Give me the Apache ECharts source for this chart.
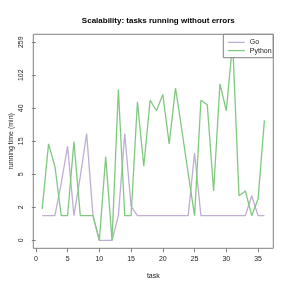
<!DOCTYPE html>
<html>
<head>
<meta charset="utf-8">
<script src="https://cdn.jsdelivr.net/npm/echarts@6/dist/echarts.min.js"></script>
<style>html,body{margin:0;padding:0;background:#fff;}#c{width:291px;height:291px;}</style>
</head>
<body>
<div id="c"></div>
<script>
// ---- data ----
const tasks = [1,2,3,4,5,6,7,8,9,10,11,12,13,14,15,16,17,18,19,20,21,22,23,24,25,26,27,28,29,30,31,32,33,34,35,36];
const goTimes = [1,1,1,4,13,1,5,19,1,0,0,0,1,19,1.6,1,1,1,1,1,1,1,1,1,10.6,1,1,1,1,1,1,1,1,2.5,1,1];
const pythonTimes = [1.4,14,7,1,1,15,1,1,1,0,9.5,0,68,1,1,48,7,50,37,59,14,71,21,5.5,1,50,44,3,80,37,259,2.5,3,1,2.2,28];
const xTicks = [0,5,10,15,20,25,30,35];
const yTickLabels = [0,2,5,15,40,102,259];

const yMaxVal = 259;
const base = Math.pow(yMaxVal + 1, 1/6);
const yTickValues = yTickLabels.map((_, k) => Math.pow(base, k));

const toPairs = (vals) => tasks.map((t, i) => [t, vals[i] + 1]);

const font = 'Liberation Sans, Arial, Helvetica, sans-serif';
const lineIcon = 'path://M0,0L0.01,0L0.01,0.01L0,0.01Z M0,3.35L17,3.35L17,4.65L0,4.65Z M16.99,7.99L17,7.99L17,8L16.99,8Z';
const chart = echarts.init(document.getElementById('c'), null, {renderer: 'canvas'});
chart.setOption({
  animation: false,
  backgroundColor: '#ffffff',
  title: {
    text: 'Scalability: tasks running without errors',
    left: 153.3, top: 12, textAlign: 'center',
    textStyle: {fontFamily: font, fontSize: 8, fontWeight: 'bold', color: '#000'}
  },
  legend: {
    orient: 'vertical',
    left: 223.3, top: 34.3,
    padding: [4, 1.5, 3, 4.5],
    itemWidth: 17, itemHeight: 8, itemGap: 0.4,
    borderColor: '#808080', borderWidth: 1, backgroundColor: '#ffffff',
    textStyle: {fontFamily: font, fontSize: 7, color: '#222'},
    data: [{name: 'Go', icon: lineIcon}, {name: 'Python', icon: lineIcon}]
  },
  grid: {
    left: 33.3, right: 17.7, top: 34.3, bottom: 42.7,
    containLabel: false, outerBoundsMode: 'none',
    show: true, borderColor: '#808080', borderWidth: 1, backgroundColor: 'transparent'
  },
  xAxis: {
    type: 'value', min: -0.4, max: 37.4,
    name: 'task', nameLocation: 'middle', nameGap: 24, nameMoveOverlap: false,
    nameTextStyle: {fontFamily: font, fontSize: 7, color: '#222'},
    axisLine: {show: false},
    axisTick: {show: true, length: 4, lineStyle: {color: '#808080'}, customValues: xTicks},
    axisLabel: {fontFamily: font, fontSize: 7, color: '#222', margin: 7, customValues: xTicks},
    splitLine: {show: false}
  },
  yAxis: {
    type: 'log', logBase: base,
    min: Math.pow(base, -0.24), max: Math.pow(base, 6.24),
    name: 'running time (min)', nameLocation: 'middle', nameGap: 19, nameRotate: 90,
    nameMoveOverlap: false,
    nameTextStyle: {fontFamily: font, fontSize: 7, color: '#222'},
    axisLine: {show: false},
    axisTick: {show: true, length: 4, lineStyle: {color: '#808080'}, customValues: yTickValues},
    axisLabel: {
      fontFamily: font, fontSize: 7, color: '#222', margin: 9, rotate: 90,
      customValues: yTickValues,
      formatter: (v) => String(Math.round(v - 1))
    },
    splitLine: {show: false}
  },
  series: [
    {name: 'Go', type: 'line', data: toPairs(goTimes), symbol: 'none',
     lineStyle: {color: '#BEAED4', width: 1.3}, itemStyle: {color: '#BEAED4'}, z: 2},
    {name: 'Python', type: 'line', data: toPairs(pythonTimes), symbol: 'none',
     lineStyle: {color: '#7FC97F', width: 1.3}, itemStyle: {color: '#7FC97F'}, z: 2}
  ]
});
</script>
</body>
</html>
